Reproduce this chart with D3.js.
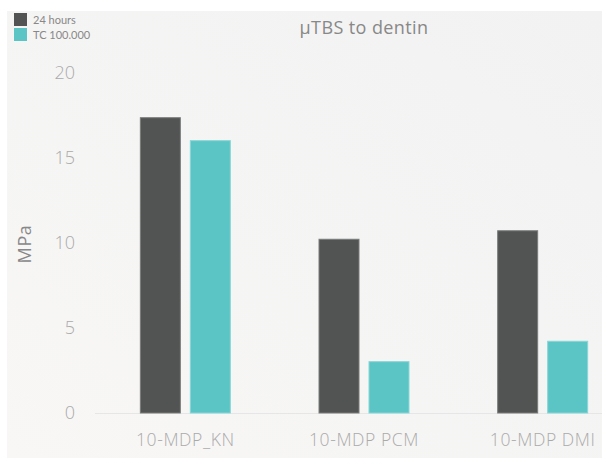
<!DOCTYPE html>
<html><head><meta charset="utf-8">
<script src="https://cdn.jsdelivr.net/npm/d3@7"></script>
<style>body{margin:0;background:#fff;} svg{display:block;}</style>
</head><body>
<svg id="c" width="602" height="460"></svg>
<script>
const categories = ["10-MDP_KN", "10-MDP PCM", "10-MDP DMI"];
const seriesNames = ["24 hours", "TC 100.000"];
const values24h = [17.4, 10.25, 10.75];
const valuesTC = [16.05, 3.05, 4.25];
const yTicks = [0, 5, 10, 15, 20];
const colors = ["#525453", "#5bc5c6"];
const strokes = ["#7a7c7b", "#8ad6d7"];
const FONT = "'Open Sans', sans-serif";

const svg = d3.select("#c");
const defs = svg.append("defs");
const g = defs.append("linearGradient").attr("id","bg").attr("x1","0").attr("y1","1").attr("x2","1").attr("y2","0");
g.append("stop").attr("offset","0").attr("stop-color","#f8f7f6");
g.append("stop").attr("offset","1").attr("stop-color","#f2f2f2");
svg.append("rect").attr("x",7).attr("y",11).attr("width",602-7).attr("height",460-11-2).attr("fill","url(#bg)");

const y = d3.scaleLinear().domain([0,20]).range([413,73]);
const x0 = d3.scaleBand().domain(categories).range([96,632]).padding(0);
const x1 = d3.scaleBand().domain(seriesNames).range([0,x0.bandwidth()]).paddingInner(0.18).paddingOuter(0.877);

// baseline
svg.append("line").attr("x1",95).attr("x2",602).attr("y1",y(0)+0.5).attr("y2",y(0)+0.5).attr("stroke","#e6e6e6");

const data = categories.map((c,i)=>({cat:c, vals:[values24h[i], valuesTC[i]]}));
const grp = svg.append("g").selectAll("g").data(data).join("g").attr("transform",d=>`translate(${x0(d.cat)},0)`);
grp.selectAll("rect").data(d=>d.vals.map((v,j)=>({v,j}))).join("rect")
  .attr("x",d=>x1(seriesNames[d.j])+0.5).attr("width",x1.bandwidth()-1)
  .attr("y",d=>y(d.v)+0.5).attr("height",d=>y(0)-y(d.v)-0.5)
  .attr("fill",d=>colors[d.j]).attr("stroke",d=>strokes[d.j]).attr("stroke-width",1);

// y axis
const yAx = svg.append("g").attr("transform","translate(75,0)")
  .call(d3.axisLeft(y).tickValues(yTicks).tickSize(0).tickPadding(0));
yAx.select(".domain").remove();
yAx.selectAll("text").attr("font-family",FONT).attr("font-weight",300).attr("font-size",18).attr("fill","#aaaaaa");

// x axis
const xAx = svg.append("g").attr("transform",`translate(0,${y(0)})`)
  .call(d3.axisBottom(x0).tickSize(0).tickPadding(21));
xAx.select(".domain").remove();
xAx.selectAll("text").attr("font-family",FONT).attr("font-weight",300).attr("font-size",17.5)
  .attr("letter-spacing","0.6px").attr("fill","#aaaaaa");

// y label
svg.append("text").attr("transform","translate(31,244) rotate(-90)").attr("text-anchor","middle")
  .attr("font-family",FONT).attr("font-size",18).attr("letter-spacing","0.6px").attr("fill","#888").text("MPa");

// title
svg.append("text").attr("x",364).attr("y",34).attr("text-anchor","middle")
  .attr("font-family",FONT).attr("font-size",18).attr("letter-spacing","0.4px").attr("fill","#888").text("μTBS to dentin");

// legend
const leg = svg.append("g").selectAll("g").data(seriesNames).join("g").attr("transform",(d,i)=>`translate(14,${13+i*15})`);
leg.append("rect").attr("width",13).attr("height",13).attr("fill",(d,i)=>colors[i]);
leg.append("text").attr("x",19).attr("y",10.5).attr("font-family","Lato, sans-serif").attr("font-size",11).attr("fill","#888").text(d=>d);
</script>
</body></html>
